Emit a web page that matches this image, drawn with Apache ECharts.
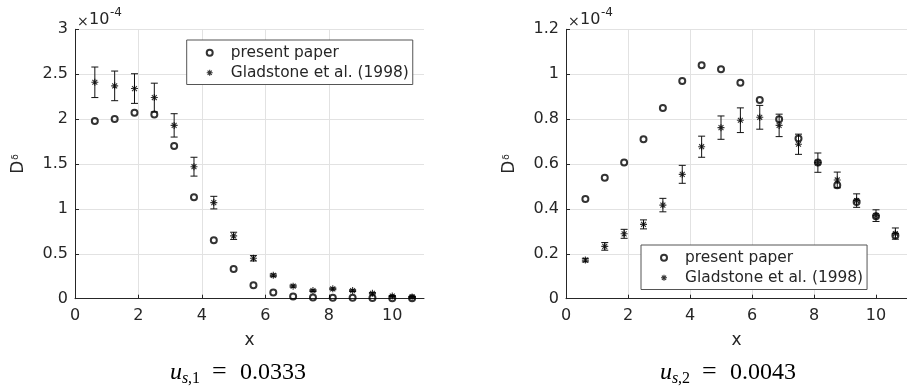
<!DOCTYPE html>
<html><head><meta charset="utf-8">
<script src="https://cdn.jsdelivr.net/npm/echarts@6/dist/echarts.min.js"></script>
<style>html,body{margin:0;padding:0;background:#fff}#c{width:907px;height:391px}</style>
</head><body><div id="c"></div>
<script>
// ---- data (values in units of 1e-4) ----
const xPos = [0.625, 1.25, 1.875, 2.5, 3.125, 3.75, 4.375, 5, 5.625, 6.25, 6.875, 7.5, 8.125, 8.75, 9.375, 10, 10.625];
const presentLeft = [1.98, 2.00, 2.07, 2.05, 1.70, 1.13, 0.65, 0.33, 0.15, 0.07, 0.025, 0.013, 0.010, 0.010, 0.008, 0.006, 0.006];
const gladLeft    = [2.41, 2.37, 2.34, 2.24, 1.93, 1.47, 1.07, 0.70, 0.45, 0.26, 0.14, 0.09, 0.11, 0.09, 0.06, 0.03, 0.02];
const gladErrLeft = [0.17, 0.165, 0.165, 0.16, 0.13, 0.105, 0.07, 0.04, 0.03, 0.015, 0.012, 0.01, 0.01, 0.01, 0.008, 0.006, 0.005];
const presentRight = [0.444, 0.539, 0.607, 0.710, 0.849, 0.970, 1.040, 1.022, 0.962, 0.885, 0.799, 0.714, 0.607, 0.505, 0.431, 0.367, 0.282];
const gladRight    = [0.172, 0.233, 0.289, 0.331, 0.417, 0.554, 0.677, 0.762, 0.795, 0.808, 0.772, 0.688, 0.606, 0.529, 0.437, 0.370, 0.290];
const gladErrRight = [0.008, 0.017, 0.02, 0.02, 0.03, 0.04, 0.047, 0.052, 0.055, 0.053, 0.05, 0.045, 0.043, 0.035, 0.03, 0.026, 0.025];
const xTicks = [0, 2, 4, 6, 8, 10];
const yTicksLeft = [0, 0.5, 1, 1.5, 2, 2.5, 3];
const yTicksRight = [0, 0.2, 0.4, 0.6, 0.8, 1, 1.2];
const seriesNames = ['present paper', 'Gladstone et al. (1998)'];
const subSubs = ['s,1', 's,2'];
const subVals = ['0.0333', '0.0043'];
const xName = 'x';

// ---- styling ----
const AX = '#262626';
const FONT = 'DejaVu Sans';
const STAR = 'path://M5 0 L5 10 M0 5 L10 5 M1.5 1.5 L8.5 8.5 M1.5 8.5 L8.5 1.5';
const grids = [
  {left: 75, top: 29.3, width: 349, height: 269.4},
  {left: 566, top: 29.3, width: 349, height: 269.4}
];

function pairs(xs, ys) { return xs.map((x, i) => [x, ys[i]]); }
function triples(xs, ys, es) { return xs.map((x, i) => [x, ys[i], es[i]]); }

function errRender(params, api) {
  const x = api.value(0), y = api.value(1), e = api.value(2);
  const top = api.coord([x, y + e]), bot = api.coord([x, y - e]);
  const cw = 3.5;
  const style = {stroke: '#111', lineWidth: 1, fill: null};
  return {type: 'group', children: [
    {type: 'line', shape: {x1: top[0], y1: top[1], x2: bot[0], y2: bot[1]}, style},
    {type: 'line', shape: {x1: top[0] - cw, y1: top[1], x2: top[0] + cw, y2: top[1]}, style},
    {type: 'line', shape: {x1: bot[0] - cw, y1: bot[1], x2: bot[0] + cw, y2: bot[1]}, style}
  ]};
}

function xAxisCfg(i) {
  return {
    gridIndex: i, type: 'value', min: 0, max: 11,
    name: xName, nameLocation: 'middle', nameGap: 33,
    nameTextStyle: {fontFamily: FONT, fontSize: 17, color: AX},
    axisLine: {show: true, lineStyle: {color: AX, width: 1}},
    axisTick: {show: true, inside: true, length: 4, lineStyle: {color: AX}, customValues: xTicks},
    axisLabel: {fontFamily: FONT, fontSize: 16, color: AX, margin: 9, customValues: xTicks},
    splitLine: {show: true, showMinLine: false, showMaxLine: false, lineStyle: {color: '#e2e2e2', width: 1}}
  };
}
function yAxisCfg(i, max, ticks) {
  return {
    gridIndex: i, type: 'value', min: 0, max: max,
    name: '{d|D}{s|δ}', nameLocation: 'middle', nameGap: 48,
    nameTextStyle: {fontFamily: FONT, color: AX, rich: {
      d: {fontFamily: FONT, fontSize: 17, color: AX},
      s: {fontFamily: FONT, fontSize: 9, color: AX, padding: [0, 0, 6, 1]}
    }},
    axisLine: {show: true, lineStyle: {color: AX, width: 1}},
    axisTick: {show: true, inside: true, length: 4, lineStyle: {color: AX}, customValues: ticks},
    axisLabel: {fontFamily: FONT, fontSize: 16, color: AX, margin: 7, customValues: ticks},
    splitLine: {show: true, showMinLine: false, showMaxLine: true, lineStyle: {color: '#e2e2e2', width: 1}}
  };
}

const circleStyle = {color: 'rgba(0,0,0,0)', borderColor: '#000', borderWidth: 2};
const starStyle = {color: 'rgba(0,0,0,0)', borderColor: '#000', borderWidth: 1.1};

function seriesFor(i, pres, glad, err) {
  return [
    {type: 'custom', xAxisIndex: i, yAxisIndex: i, renderItem: errRender,
     data: triples(xPos, glad, err), silent: true, z: 2},
    {type: 'scatter', name: seriesNames[1], xAxisIndex: i, yAxisIndex: i,
     symbol: STAR, symbolSize: 7, itemStyle: starStyle, data: pairs(xPos, glad), z: 3, silent: true},
    {type: 'scatter', name: seriesNames[0], xAxisIndex: i, yAxisIndex: i,
     symbol: 'circle', symbolSize: 6, itemStyle: circleStyle, data: pairs(xPos, pres), z: 4, silent: true}
  ];
}

function legendCfg(left, top) {
  return {
    left: left, top: top, orient: 'vertical',
    data: [
      {name: seriesNames[0], itemStyle: {borderWidth: 2}},
      {name: seriesNames[1], itemStyle: {borderWidth: 1.1}}
    ],
    itemWidth: 32, itemHeight: 6, itemGap: 0.5,
    padding: [3, 4, 2, 19],
    borderColor: '#555', borderWidth: 1, backgroundColor: '#fff',
    textStyle: {fontFamily: FONT, fontSize: 15.4, color: AX, lineHeight: 19.5},
    selectedMode: false
  };
}

function expLabel(x0) {
  return [
    {type: 'text', left: x0 + 2, top: 15, style: {text: '×', fontFamily: FONT, fontSize: 14, fill: AX}},
    {type: 'text', left: x0 + 14, top: 12, style: {text: '10', fontFamily: FONT, fontSize: 16, fill: AX}},
    {type: 'text', left: x0 + 35, top: 7, style: {text: '-4', fontFamily: FONT, fontSize: 12, fill: AX}}
  ];
}
function subtitle(x0, i) {
  const SERIF = 'Liberation Serif';
  return [
    {type: 'text', x: x0, y: 373, style: {text: 'u', font: 'italic 24px "' + SERIF + '"', fill: '#000', verticalAlign: 'middle', align: 'left'}},
    {type: 'text', x: x0 + 12, y: 379, style: {text: subSubs[i].charAt(0), font: 'italic 16px "' + SERIF + '"', fill: '#000', verticalAlign: 'middle', align: 'left'}},
    {type: 'text', x: x0 + 18, y: 379, style: {text: subSubs[i].slice(1), font: '16px "' + SERIF + '"', fill: '#000', verticalAlign: 'middle', align: 'left'}},
    {type: 'text', x: x0 + 42, y: 372, style: {text: '=', font: '26px "' + SERIF + '"', fill: '#000', verticalAlign: 'middle', align: 'left'}},
    {type: 'text', x: x0 + 70, y: 373, style: {text: subVals[i], font: '24px "' + SERIF + '"', fill: '#000', verticalAlign: 'middle', align: 'left'}}
  ];
}

const chart = echarts.init(document.getElementById('c'), null, {renderer: 'canvas'});
chart.setOption({
  animation: false,
  backgroundColor: '#fff',
  grid: grids,
  xAxis: [xAxisCfg(0), xAxisCfg(1)],
  yAxis: [yAxisCfg(0, 3, yTicksLeft), yAxisCfg(1, 1.2, yTicksRight)],
  legend: [legendCfg(186.7, 40), legendCfg(641, 245)],
  series: [].concat(
    seriesFor(0, presentLeft, gladLeft, gladErrLeft),
    seriesFor(1, presentRight, gladRight, gladErrRight)
  ),
  graphic: [].concat(expLabel(75), expLabel(566), subtitle(170, 0), subtitle(660, 1))
});
</script></body></html>
